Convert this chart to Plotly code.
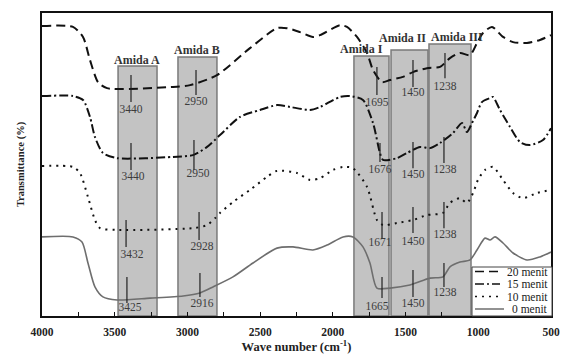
import plotly.graph_objects as go

# ---------------- data ----------------
wn_20 = [4000, 3787, 3718, 3670, 3615, 3553, 3099, 2982, 2797, 2570, 2384, 2315, 2226, 2137, 2088,
         1951, 1903, 1834, 1765, 1724, 1662, 1607, 1518, 1449, 1353, 1263, 1195, 1126, 1057, 1009,
         968, 906, 830, 761, 665, 576, 500]
t_20 = [95.7, 95.4, 92.1, 84.5, 77.2, 75.2, 75.6, 76.2, 79.5, 88.4, 95.0, 95.0, 93.7, 92.1, 92.7,
        96.0, 95.4, 92.1, 86.8, 81.2, 77.2, 77.9, 78.9, 80.5, 81.8, 82.2, 85.1, 86.8, 86.1, 90.1,
        93.4, 95.4, 92.1, 90.4, 90.1, 91.1, 92.7]

wn_15 = [4000, 3787, 3718, 3670, 3636, 3581, 3484, 3099, 2962, 2865, 2776, 2639, 2501, 2384, 2295,
         2157, 2088, 1951, 1882, 1793, 1724, 1676, 1655, 1559, 1490, 1401, 1332, 1263, 1174, 1112,
         1078, 1043, 1009, 975, 920, 899, 851, 782, 713, 644, 555, 500]
t_15 = [72.6, 72.6, 71.3, 65.7, 59.1, 53.8, 52.1, 52.5, 53.1, 55.8, 59.7, 65.7, 68.0, 69.6, 69.0,
        68.0, 69.0, 72.3, 72.6, 71.3, 63.7, 53.8, 51.5, 52.1, 53.8, 55.8, 55.4, 57.1, 60.4, 63.7,
        60.7, 63.7, 67.0, 70.6, 71.9, 72.3, 68.0, 62.4, 57.4, 56.4, 58.1, 62.0]

wn_10 = [4000, 3787, 3739, 3684, 3636, 3601, 3484, 2962, 2865, 2810, 2776, 2687, 2570, 2453, 2384,
         2247, 2157, 2088, 1999, 1930, 1862, 1765, 1697, 1655, 1559, 1449, 1353, 1243, 1195, 1126,
         1078, 1036, 1002, 954, 899, 830, 761, 693, 596, 500]
t_10 = [49.5, 49.2, 47.2, 39.3, 31.7, 29.0, 28.4, 29.0, 30.0, 32.3, 34.0, 37.6, 41.6, 45.9, 47.9,
        47.2, 44.9, 45.5, 48.2, 49.2, 48.8, 42.6, 31.7, 30.0, 30.7, 31.7, 33.3, 34.0, 37.3, 38.9,
        37.3, 40.6, 44.9, 48.2, 49.2, 44.9, 40.6, 38.9, 40.6, 41.6]

wn_0 = [4000, 3787, 3725, 3684, 3636, 3581, 3484, 3257, 3030, 2914, 2824, 2687, 2549, 2384, 2274,
        2137, 2040, 1930, 1862, 1793, 1745, 1697, 1607, 1470, 1332, 1243, 1195, 1126, 1057, 1009,
        954, 920, 885, 830, 761, 665, 576, 500]
t_0 = [26.1, 26.1, 24.4, 17.5, 9.6, 6.3, 5.3, 5.9, 6.6, 7.6, 9.6, 12.9, 17.5, 22.4, 22.8,
       21.8, 23.4, 26.1, 26.1, 22.8, 17.5, 9.2, 9.2, 10.2, 12.5, 12.9, 16.2, 17.8, 18.5, 21.8,
       25.7, 25.1, 26.1, 24.1, 20.8, 18.5, 19.5, 21.1]

series_names = ["20 menit", "15 menit", "10 menit", "0 menit"]

# amide bands
band_names = ["Amida A", "Amida B", "Amida I", "Amida II", "Amida III"]
band_lo = [3477, 3065, 1855, 1600, 1339]
band_hi = [3209, 2797, 1614, 1346, 1050]
band_top = [82.5, 85.5, 85.8, 87.8, 89.8]
band_label_x = [3347, 2934, 1800, 1518, 1146]
band_label_y = [84.5, 87.8, 88.1, 91.7, 92.1]

# peak markers per series (20, 15, 10, 0 menit)
peak_text = [["3440", "2950", "1695", "1450", "1238"],
             ["3440", "2950", "1676", "1450", "1238"],
             ["3432", "2928", "1671", "1450", "1238"],
             ["3425", "2916", "1665", "1450", "1238"]]
peak_x = [[3388, 2941, 1697, 1449, 1229],
          [3388, 2955, 1676, 1449, 1236],
          [3422, 2920, 1662, 1449, 1236],
          [3416, 2914, 1662, 1449, 1236]]
peak_top = [[79.5, 81.2, 82.2, 84.5, 86.8],
            [57.1, 58.1, 57.1, 57.4, 59.1],
            [31.7, 34.3, 34.3, 36.0, 37.6],
            [12.9, 14.2, 12.9, 15.2, 17.5]]
peak_bot = [[70.6, 72.9, 72.9, 75.6, 78.5],
            [48.2, 48.2, 50.8, 48.8, 50.5],
            [22.8, 25.1, 25.7, 27.4, 29.0],
            [4.3, 6.3, 5.9, 6.3, 9.6]]
peak_label_x = [[3388, 2941, 1697, 1449, 1229],
                [3374, 2927, 1676, 1449, 1229],
                [3381, 2900, 1676, 1449, 1229],
                [3395, 2900, 1697, 1449, 1229]]
peak_label_y = [[68.0, 70.6, 70.3, 73.6, 75.6],
                [45.9, 46.9, 48.2, 46.5, 48.2],
                [20.1, 22.8, 24.1, 24.4, 26.7],
                [2.6, 4.0, 3.0, 4.0, 7.6]]

x_tick_vals = [4000, 3500, 3000, 2500, 2000, 1500, 1000, 500]

# ---------------- figure ----------------
SERIF = "Liberation Serif, Times New Roman, serif"
fig = go.Figure()

# bands
for lo, hi, top in zip(band_lo, band_hi, band_top):
    fig.add_shape(type="rect", xref="x", yref="y", x0=lo, x1=hi, y0=0, y1=top,
                  fillcolor="#c3c3c3", line=dict(color="#7a7a7a", width=1.5), layer="below")

styles = [dict(color="#111111", width=2.0, dash="9px,5px"),
          dict(color="#111111", width=2.0, dash="9px,3px,2px,3px"),
          dict(color="#111111", width=2.0, dash="2px,5px"),
          dict(color="#6e6e6e", width=1.6, dash="solid")]
xs = [wn_20, wn_15, wn_10, wn_0]
ys = [t_20, t_15, t_10, t_0]
for name, x, y, st in zip(series_names, xs, ys, styles):
    fig.add_trace(go.Scatter(x=x, y=y, mode="lines", name=name, line=st,
                             line_shape="spline", line_smoothing=0.7, showlegend=False))

# peak marker lines
lx, ly = [], []
for px_, pt, pb in zip(peak_x, peak_top, peak_bot):
    for a, t, b in zip(px_, pt, pb):
        lx += [a, a, None]
        ly += [t, b, None]
fig.add_trace(go.Scatter(x=lx, y=ly, mode="lines", line=dict(color="#222222", width=1.2),
                         showlegend=False, hoverinfo="skip"))

# peak labels
tx, ty, tt = [], [], []
for a, b, c in zip(peak_label_x, peak_label_y, peak_text):
    tx += a; ty += b; tt += c
fig.add_trace(go.Scatter(x=tx, y=ty, text=tt, mode="text", showlegend=False,
                         textfont=dict(family=SERIF, size=11.5, color="#3c3c3c"),
                         textposition="middle center", hoverinfo="skip"))

# band labels
for name, bx, by in zip(band_names, band_label_x, band_label_y):
    fig.add_annotation(x=bx, y=by, text="<b>%s</b>" % name, showarrow=False,
                       font=dict(family=SERIF, size=12, color="#333333"),
                       xanchor="center", yanchor="middle")

# manual legend (box + samples + text), paper coordinates
W, H = 563, 360
L, R, T, B = 42, 12, 13, 44
pw, ph = W - L - R, H - T - B
def px2paper(xp, yp):
    return (xp - L) / pw, (H - B - yp) / ph

bx0, by0 = px2paper(472, 267)
bx1, by1 = px2paper(552, 316)
fig.add_shape(type="rect", xref="paper", yref="paper", x0=bx0, x1=bx1, y0=by1, y1=by0,
              fillcolor="white", line=dict(color="#444444", width=1))
row_y = [271.5, 284, 296.5, 309]
line_end = [500, 500, 500, 504]
for name, st, ry, le in zip(series_names, styles, row_y, line_end):
    x0p, yp = px2paper(475, ry)
    x1p, _ = px2paper(le, ry)
    fig.add_shape(type="line", xref="paper", yref="paper", x0=x0p, x1=x1p, y0=yp, y1=yp,
                  line=dict(color=st["color"], width=1.5, dash=st["dash"]))
    xt, _ = px2paper(549, ry)
    fig.add_annotation(xref="paper", yref="paper", x=xt, y=yp, text=name, showarrow=False,
                       xanchor="right", yanchor="middle", borderpad=0,
                       font=dict(family=SERIF, size=11.5, color="#222222"))

fig.update_layout(
    width=W, height=H,
    margin=dict(l=L, r=R, t=T, b=B, autoexpand=False),
    plot_bgcolor="white", paper_bgcolor="white",
    font=dict(family=SERIF, color="#222222"),
    xaxis=dict(range=[4000, 500], tickvals=x_tick_vals,
               ticktext=["<b>%d</b>" % v for v in x_tick_vals],
               ticks="inside", ticklen=4, tickwidth=1.2, tickcolor="#111111",
               minor=dict(dtick=250, ticks="inside", ticklen=4, tickwidth=1.2, tickcolor="#111111"),
               showline=True, linecolor="#111111", linewidth=1.6, mirror=True,
               showgrid=False, zeroline=False, ticklabelstandoff=4,
               tickfont=dict(family=SERIF, size=11.5, color="#222222"),
               title=dict(text="<b>Wave number (cm<sup>-1</sup>)</b>", standoff=4,
                          font=dict(family=SERIF, size=12.5, color="#222222"))),
    yaxis=dict(range=[0, 100], showticklabels=False, ticks="", showgrid=False, zeroline=False,
               showline=True, linecolor="#111111", linewidth=1.6, mirror=True,
               title=dict(text="<b>Transmittance (%)</b>", standoff=14,
                          font=dict(family=SERIF, size=10.5, color="#222222"))),
)

fig.write_html("out.html", config={"displayModeBar": False},
               post_script="document.body.style.margin='0';document.body.style.padding='0';")
